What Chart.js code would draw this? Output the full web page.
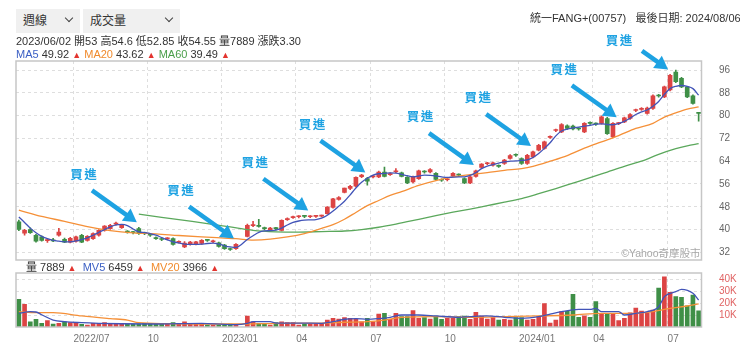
<!DOCTYPE html>
<html><head><meta charset="utf-8">
<script src="https://cdn.jsdelivr.net/npm/chart.js@4.4.1/dist/chart.umd.min.js"></script>
<style>
*{box-sizing:border-box}
html,body{margin:0;padding:0;background:#fff}
body{width:740px;height:349px;overflow:hidden;position:relative;font-family:"Liberation Sans","Noto Sans CJK TC",Arial,sans-serif;color:#333}
canvas{position:absolute;left:0}
#mainC{top:0}
#volC{top:266px}
.sel{position:absolute;top:9px;height:24px;background:#f0f0f0;font-size:12px;line-height:24px;color:#333;z-index:2}
.sel span{position:absolute;left:7px;top:0}
.chev{position:absolute;top:6px;width:6px;height:6px;border-right:1.4px solid #444;border-bottom:1.4px solid #444;transform:rotate(45deg)}
.txt{position:absolute;font-size:11px;white-space:nowrap;z-index:2;line-height:13px}
.up{color:#e3342f;font-size:9px}
.b{color:#3b5fc4}.o{color:#f08a2c}.g{color:#4a9e4a}
</style></head><body>
<canvas id="mainC" width="740" height="266"></canvas>
<canvas id="volC" width="740" height="83"></canvas>
<div class="sel" style="left:16px;width:64px"><span>週線</span><i class="chev" style="left:50px"></i></div>
<div class="sel" style="left:83px;width:97px"><span>成交量</span><i class="chev" style="left:83px"></i></div>
<div class="txt" style="left:530px;top:12px">統一FANG+(00757)&nbsp;&nbsp;&nbsp;最後日期: 2024/08/06</div>
<div class="txt" style="left:16px;top:35px">2023/06/02 開53 高54.6 低52.85 收54.55 量7889 漲跌3.30</div>
<div class="txt" style="left:16px;top:48px"><span class="b">MA5</span> 49.92 <span class="up">▲</span> <span class="o">MA20</span> 43.62 <span class="up">▲</span> <span class="g">MA60</span> 39.49 <span class="up">▲</span></div>
<div class="txt" style="left:26px;top:261px">量 7889 <span class="up">▲</span>&nbsp; <span class="b">MV5</span> 6459 <span class="up">▲</span>&nbsp; <span class="o">MV20</span> 3966 <span class="up">▲</span></div>
<script>
// ---------- DATA ----------
const FIRST_WEEK_END = '2022-04-29';   // weekly bars, labelled by week-ending Friday
const WEEK_COUNT = 120;
const weeks = [];
(function(){ const t0 = Date.parse(FIRST_WEEK_END + 'T00:00:00Z');
  for (let i = 0; i < WEEK_COUNT; i++) { const d = new Date(t0 + i*7*86400000);
    weeks.push(d.getUTCFullYear()+'/'+String(d.getUTCMonth()+1).padStart(2,'0')+'/'+String(d.getUTCDate()).padStart(2,'0')); } })();

const OPEN = [42.7,38.7,40.0,38.0,37.4,36.1,36.4,38.0,36.6,35.6, 35.9,38.0,36.2,36.8,38.0,39.7,40.3,41.9,40.7,39.3, 39.0,40.3,38.7,38.1,37.0,36.6,36.7,36.8,35.5,33.9, 34.8,34.9,35.1,36.3,35.7,35.3,34.5,33.1,33.3,null, 37.6,41.4,41.3,40.5,39.7,40.4,39.7,43.5,44.2,44.5, 44.7,44.5,44.6,44.7,45.6,47.8,50.6,53.0,54.4,55.2, 58.6,57.9,58.5,58.5,60.2,59.3,60.3,59.9,58.3,56.7, 57.9,60.4,60.2,59.7,57.4,57.5,58.8,59.2,57.9,56.4, 58.7,61.8,63.1,62.6,62.3,63.2,65.0,66.3,64.9,63.2, 65.5,67.9,68.5,72.4,74.8,74.3,76.4,76.3,75.4,74.3, 77.4,77.1,77.3,79.0,72.5,77.2,77.8,79.0,81.8,82.2, 80.8,82.5,87.2,86.6,89.0,95.3,93.1,90.0,87.0,80.9];
const HIGH = [43.3,40.1,40.6,38.3,37.8,36.6,36.9,40.4,37.0,37.3, 37.7,38.3,37.9,38.8,40.0,41.4,41.8,42.6,41.8,39.6, 39.4,40.8,39.1,38.5,37.4,37.0,37.2,37.1,36.0,35.8, 35.9,35.9,36.5,36.6,36.3,35.6,34.8,33.5,35.1,null, 41.9,42.9,43.6,40.9,40.8,40.8,43.4,44.1,44.7,44.9, 45.0,44.9,45.0,45.1,48.1,51.0,51.6,54.6,55.5,58.5, 59.4,58.3,59.0,60.5,61.9,59.9,61.4,60.2,58.6,58.8, 60.9,60.7,61.4,60.0,57.8,58.0,60.0,59.6,58.2,58.8, 60.9,63.2,63.6,63.7,62.7,64.7,66.3,66.6,65.2,66.4, 67.6,69.9,71.1,72.9,75.3,77.2,76.8,76.7,75.8,77.6, 77.8,77.5,79.9,79.4,77.6,77.7,79.5,80.7,82.3,82.8, 83.0,87.3,87.5,90.4,94.5,96.0,93.5,90.3,87.3,81.0];
const LOW = [39.6,38.0,38.6,35.6,35.9,35.5,35.7,37.7,35.4,35.3, 35.6,35.4,35.9,36.5,37.7,39.4,40.0,41.5,40.4,38.7, 38.5,38.3,38.2,37.6,36.5,36.1,36.4,34.5,35.2,33.6, 34.5,34.6,34.8,35.8,35.4,33.8,33.0,32.7,33.0,null, 37.4,41.0,40.8,39.9,39.4,39.9,39.5,43.2,43.9,44.1, 44.2,44.2,44.3,44.4,45.4,47.5,50.3,52.85,54.0,55.0, 58.2,55.6,58.1,58.2,58.5,59.0,60.0,58.5,56.1,56.4, 57.6,59.8,59.9,57.3,56.9,57.1,58.5,58.7,56.1,56.1, 58.4,61.5,62.8,62.3,61.8,62.9,64.7,65.7,62.9,62.9, 65.2,67.6,68.2,72.0,74.4,74.0,75.2,75.0,74.9,74.0, 76.9,76.6,77.0,73.4,72.2,76.8,77.5,78.7,81.4,81.8, 80.5,82.2,86.5,86.3,88.7,91.6,89.8,86.3,84.0,78.1];
const CLOSE = [40.0,39.7,38.9,35.9,36.2,36.3,36.0,39.1,35.6,36.9, 37.4,35.6,37.6,38.6,39.7,41.2,41.5,42.1,41.5,39.1, 38.9,38.6,38.6,38.0,36.8,36.5,36.8,34.8,35.6,35.2, 35.6,35.7,36.2,36.2,35.9,34.1,33.3,33.0,34.8,null, 41.5,41.6,41.1,40.3,40.5,40.3,43.2,43.7,44.4,44.6, 44.6,44.6,44.7,44.8,47.9,50.8,51.25,54.55,55.2,58.3, 59.1,57.0,58.7,60.2,58.7,59.5,60.5,58.7,56.4,58.5, 60.6,60.2,61.1,57.6,57.3,57.6,59.7,59.1,56.4,58.5, 60.6,62.95,63.2,63.4,62.2,64.4,66.0,66.1,63.2,66.1, 67.3,69.6,70.8,72.5,74.9,76.9,75.5,75.3,75.3,77.3, 77.3,77.0,79.6,73.7,77.3,77.3,79.2,80.4,81.9,82.3, 82.7,87.0,86.9,90.1,94.2,91.9,90.1,86.6,84.3,80.8];
const VOLUME = [23100,18900,4400,6400,3100,5300,2500,3100,4400,3600, 3100,2200,1500,3100,3100,3600,3100,2500,2500,2200, 2200,2500,3100,3100,2200,2200,2500,3600,3100,4400, 3100,2500,2500,1700,1700,1700,1700,2500,1700,null, 9200,4400,3100,2500,1700,3600,4400,3600,3600,1700, 2500,2500,2500,3100,5800,7200,6700,7889,7200,6700, 4400,7200,4400,10800,11400,6400,11400,8600,8600,13600, 7200,7800,6700,9200,6400,7200,7200,8600,9200,6400, 12200,9200,6700,7800,5800,6400,5800,7800,7800,5800, 6400,8600,19500,3300,5800,12800,13000,27200,8100,9300, 8100,21100,11100,10800,10800,5300,7200,11800,15800,13300, 12000,14200,32500,41900,28900,25300,24800,17600,26700,13500];
const MA5 = [44.4,42.5,40.5,38.9,37.6,36.8,36.2,35.9,35.7,35.7, 36.0,36.5,37.1,38.0,39.0,40.0,40.9,41.6,41.8,41.4, 40.2,39.2,38.9,38.6,38.0,37.2,36.4,35.7,35.3,34.9, 34.8,34.8,34.9,35.1,35.2,34.9,34.3,33.9,33.7,null, 36.5,37.8,39.0,39.5,39.6,39.8,40.5,41.6,42.5,43.0, 43.3,43.4,43.5,44.0,45.0,46.5,48.2,49.92,52.2,54.6, 56.6,58.0,59.1,59.6,59.7,59.9,59.8,59.4,58.9,58.5, 58.8,59.1,59.0,58.8,58.5,58.3,58.4,58.5,58.5,59.0, 60.0,61.4,62.3,62.8,63.3,63.8,64.0,64.1,64.3,64.5, 65.3,66.7,68.5,70.5,72.9,74.6,75.3,75.7,76.0,76.3, 76.6,77.0,77.1,76.9,76.8,77.2,78.0,79.1,80.4,81.3, 82.0,83.3,85.0,87.5,89.5,90.3,90.6,90.3,89.5,87.2];
// smooth averages read at sampled weeks: [weekIndex, value]
const MA20_READ = [[0,46.8],[4,44.6],[8,42.9],[12,41.0],[16,39.6],[20,38.8],[24,38.5],[28,37.9],[32,37.4],[36,37.0],[38,36.8],[41,36.3],[44,36.6],[47,37.4],[50,38.6],[53,40.4],[55,41.7],[57,43.62],[59,46.0],[61,48.4],[63,50.2],[65,52.0],[67,53.3],[70,55.5],[73,57.2],[76,58.5],[79,59.3],[82,60.0],[85,60.8],[88,61.4],[90,62.2],[93,64.0],[96,66.0],[99,68.6],[102,70.8],[105,73.0],[108,75.5],[111,77.3],[113,79.5],[115,81.0],[117,82.3],[119,83.1]];
const MA60_READ = [[21,45.4],[25,44.3],[29,43.2],[33,42.1],[37,40.9],[41,39.7],[45,39.2],[49,39.1],[53,39.3],[57,39.49],[60,40.0],[63,40.8],[66,41.9],[70,43.6],[73,44.9],[76,46.1],[79,47.2],[82,48.4],[85,49.6],[88,50.9],[91,52.6],[94,54.4],[97,56.3],[100,58.2],[103,60.2],[106,62.2],[109,64.0],[112,66.4],[115,68.4],[117,69.4],[119,70.2]];
const MV5_READ = [[0,11400],[2,12800],[3,12500],[4,10200],[6,5800],[8,4400],[11,3600],[14,3100],[18,2700],[23,2500],[28,2800],[32,3000],[36,2200],[38,2000],[40,3100],[41,4400],[44,4400],[45,3300],[49,3300],[53,3100],[55,4400],[57,6459],[59,7000],[61,6400],[63,7000],[65,8100],[67,10000],[70,10000],[73,9200],[77,8100],[79,8600],[82,9200],[85,8100],[88,7200],[91,8600],[93,10800],[95,12800],[98,14700],[100,14700],[101,15600],[102,12800],[105,12800],[106,10000],[108,11400],[110,12800],[112,16900],[113,25300],[115,29400],[116,31400],[118,28100],[119,22500]];
const MV20_READ = [[0,12800],[3,11900],[6,11900],[11,9200],[16,7000],[19,5800],[21,3600],[26,2800],[32,2500],[38,2500],[46,3100],[53,3300],[57,3966],[61,4400],[64,5800],[67,8100],[73,8600],[79,8100],[85,8600],[91,9200],[97,10000],[102,11400],[108,11400],[111,12800],[114,15600],[117,17500],[119,19200]];
const PRICE_TICKS = [32,40,48,56,64,72,80,88,96];
const VOLUME_TICKS = [10000,20000,30000,40000];
const QUARTER_MONTHS = [1,4,7,10];
const BUY_WEEKS = [21,38,51,61,80,90,105,114];

// ---------- helpers ----------
const N = weeks.length;
const sparse = pts => { const a = new Array(N).fill(null); pts.forEach(([i,v]) => { a[i] = v; }); return a; };
// a quarter gridline opens the first week whose Monday falls in Jan/Apr/Jul/Oct
const mondayMonth = i => new Date(Date.parse(weeks[i].replace(/\//g,'-') + 'T00:00:00Z') - 4*86400000).getUTCMonth() + 1;
const monthTicks = [];
for (let i = 1; i < N; i++) { const m = mondayMonth(i); if (m !== mondayMonth(i-1) && QUARTER_MONTHS.includes(m)) monthTicks.push(i); }
const tickLabel = i => { const m = String(mondayMonth(i)).padStart(2,'0'); const y = weeks[i].slice(0,4);
  return (i === monthTicks[0] || m === '01') ? y + '/' + m : m; };

const RED = '#dc4444', GREEN = '#3f8f47';
const candleColor = ctx => { const i = ctx.dataIndex; return CLOSE[i] == null ? 'rgba(0,0,0,0)' : (CLOSE[i] >= OPEN[i] ? RED : GREEN); };
const GRID = '#dedede';
const FONT = '"Liberation Sans","Noto Sans CJK TC",Arial,sans-serif';

const boxPlugin = { id:'box', afterDraw(c){ const a = c.chartArea, ctx = c.ctx; ctx.save();
  ctx.strokeStyle = '#c6c6c6'; ctx.lineWidth = 1.5; ctx.strokeRect(a.left, a.top, a.right-a.left, a.bottom-a.top); ctx.restore(); } };

const markPlugin = { id:'marks', afterDraw(c){
  const a = c.chartArea, ctx = c.ctx, xs = c.scales.x, ys = c.scales.y;
  ctx.save();
  ctx.font = '10.5px ' + FONT; ctx.fillStyle = '#a8a8a8'; ctx.textAlign = 'right'; ctx.textBaseline = 'bottom';
  ctx.fillText('©Yahoo奇摩股市', a.right - 1, a.bottom - 1);
  const col = '#1ea2e2', ang = Math.atan2(32,45);
  const lens = [55,55,55,55,55,55,55,32];
  const txtOff = [[-8.5,-16],[-8.5,-16],[-8.5,-16],[-8.5,-16],[-9,-17],[-8.5,-17],[-8,-16],[-23,-11]];
  BUY_WEEKS.forEach((i,k) => {
    const tx = xs.getPixelForValue(i) - 2, ty = ys.getPixelForValue(HIGH[i]) - 5;
    const cx = Math.cos(ang), cy = Math.sin(ang);
    const sx = tx - lens[k]*cx, sy = ty - lens[k]*cy;
    const hl = 13, hw = 7.5, bx = tx - hl*cx, by = ty - hl*cy;
    ctx.strokeStyle = col; ctx.fillStyle = col; ctx.lineWidth = 4.5; ctx.lineCap = 'butt';
    ctx.beginPath(); ctx.moveTo(sx, sy); ctx.lineTo(bx + cx, by + cy); ctx.stroke();
    ctx.beginPath(); ctx.moveTo(tx, ty); ctx.lineTo(bx - cy*hw, by + cx*hw); ctx.lineTo(bx + cy*hw, by - cx*hw); ctx.closePath(); ctx.fill();
    ctx.font = 'bold 12.5px "Noto Sans CJK TC"'; ctx.textAlign = 'center'; ctx.textBaseline = 'middle';
    const mx = sx + txtOff[k][0], my = sy + txtOff[k][1];
    ctx.fillText('買', mx - 7, my); ctx.fillText('進', mx + 7, my);
  });
  ctx.restore(); } };

const xAxis = (showLabels) => ({
  offset: true,
  grid: { offset: true, drawTicks: false, color: c => monthTicks.includes(c.index) ? GRID : 'rgba(0,0,0,0)' },
  border: { display: false, dash: [3,3] },
  ticks: { display: showLabels, autoSkip: false, maxRotation: 0, minRotation: 0, align: 'start', labelOffset: -2.5,
    padding: 6, color: '#777', font: { size: 10, family: FONT },
    callback: (v) => monthTicks.includes(v) ? tickLabel(v) : '' },
  afterFit: s => { s.height = showLabels ? 22 : 0; }
});
// right value axis: label gap made with an invisible tick mark (tick padding would also pad the plot vertically)
const yAxis = (min, max, ticks, color, cb) => ({
  position: 'right', min, max,
  afterBuildTicks: s => { s.ticks = ticks.map(v => ({ value: v })); },
  afterFit: s => { s.width = 38.5; },
  ticks: { padding: 0, color, font: { size: 10, family: FONT }, callback: cb },
  grid: { color: GRID, drawTicks: true, tickLength: 17.5, tickColor: 'rgba(0,0,0,0)' },
  border: { display: false, dash: [3,3] }
});

const lineDs = (label, data, color, yID) => ({ type:'line', label, data, borderColor: color, borderWidth: 1.3,
  pointRadius: 0, spanGaps: true, cubicInterpolationMode: 'monotone', order: 0, yAxisID: yID });

function pinArea(chart, top, bottom){
  for (let k = 0; k < 3; k++) {
    const a = chart.chartArea, p = chart.config.options.layout.padding;
    const dt = top - a.top, db = a.bottom - bottom;
    if (Math.abs(dt) < 0.1 && Math.abs(db) < 0.1) break;
    p.top += dt; p.bottom += db; chart.update('none');
  }
}

const mainChart = new Chart(document.getElementById('mainC'), {
  type: 'bar',
  data: { labels: weeks, datasets: [
    lineDs('MA5', MA5, '#4254b8', 'y'),
    lineDs('MA20', sparse(MA20_READ), '#f59038', 'y'),
    lineDs('MA60', sparse(MA60_READ), '#5ba85c', 'y'),
    { label:'body', data: weeks.map((_,i) => OPEN[i] == null ? null : [Math.min(OPEN[i],CLOSE[i]), Math.max(OPEN[i],CLOSE[i])]),
      backgroundColor: candleColor, barThickness: 4, grouped: false, minBarLength: 1, order: 1 },
    { label:'wick', data: weeks.map((_,i) => HIGH[i] == null ? null : [LOW[i], HIGH[i]]),
      backgroundColor: candleColor, barThickness: 1, grouped: false, order: 2 }
  ]},
  options: {
    responsive: false, animation: false, events: [],
    layout: { autoPadding: false, padding: { left: 16, top: 61, bottom: 6, right: 0 } },
    plugins: { legend: { display: false }, tooltip: { enabled: false } },
    scales: { x: xAxis(false), y: yAxis(29.3, 99.2, PRICE_TICKS, '#666', v => v) }
  },
  plugins: [boxPlugin, markPlugin]
});
pinArea(mainChart, 61, 260);

const volChart = new Chart(document.getElementById('volC'), {
  type: 'bar',
  data: { labels: weeks, datasets: [
    lineDs('MV5', sparse(MV5_READ), '#4254b8', 'y'),
    lineDs('MV20', sparse(MV20_READ), '#f59038', 'y'),
    { label:'vol', data: VOLUME, backgroundColor: candleColor, barThickness: 4, grouped: false, order: 1 }
  ]},
  options: {
    responsive: false, animation: false, events: [],
    layout: { autoPadding: false, padding: { left: 16, top: 7, bottom: 0, right: 0 } },
    plugins: { legend: { display: false }, tooltip: { enabled: false } },
    scales: { x: xAxis(true), y: yAxis(0, 45000, VOLUME_TICKS, '#e06464', v => (v/1000) + 'K') }
  },
  plugins: [boxPlugin]
});
pinArea(volChart, 7, 61);
</script>
</body></html>
